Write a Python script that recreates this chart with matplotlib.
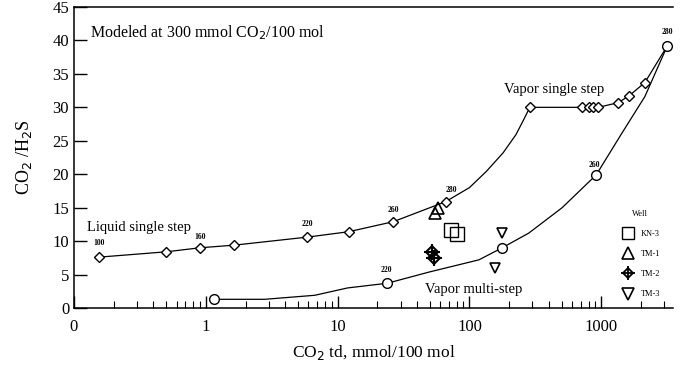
import matplotlib.pyplot as plt
from matplotlib.lines import Line2D

plt.rcParams['font.family'] = ['Liberation Serif', 'DejaVu Serif']

# liquid / vapor single step (diamonds)
liq_x = [0.154, 0.50, 0.90, 1.65, 5.9, 12.1, 26.4, 66, 287, 708, 800, 870, 950, 1343, 1620, 2140, 3170]
liq_y = [7.6, 8.4, 9.0, 9.4, 10.6, 11.4, 12.9, 15.9, 30.0, 30.0, 30.0, 30.0, 30.0, 30.7, 31.7, 33.7, 39.2]
# curve read between the 280 point and the vapor plateau
liq_curve_x = [100, 134, 180, 225, 257]
liq_curve_y = [18.0, 20.4, 23.2, 25.9, 28.1]

# vapor multi-step (circles)
multi_x = [1.15, 23.8, 177, 915, 3170]
multi_y = [1.3, 3.7, 9.0, 19.9, 39.2]
multi_curve_x = [2.8, 6.7, 11.9, 50, 118, 282, 505, 1440, 2140]
multi_curve_y = [1.3, 1.9, 3.0, 5.4, 7.2, 11.2, 15.0, 26.2, 31.6]

# wells
kn3_x, kn3_y = [73, 81], [11.7, 11.1]
tm1_x, tm1_y = [54.6, 57.5], [14.2, 15.0]
tm2_x, tm2_y = [51.8, 53.7], [8.4, 7.5]
tm3_x, tm3_y = [177, 157], [11.2, 6.0]

# temperature labels (text, x, y)
temp_labels = [("100", 0.154, 9.7), ("160", 0.90, 10.6), ("220", 5.9, 12.6),
               ("260", 26.4, 14.7), ("280", 73, 17.7), ("280", 3170, 41.2),
               ("260", 885, 21.4), ("220", 23.6, 5.7)]

fig = plt.figure(figsize=(6.81, 3.70), dpi=100)
ax = fig.add_axes([74 / 681, 1 - 308 / 370, 599 / 681, 301 / 370])

# lines
lx, ly = zip(*sorted(zip(liq_x + liq_curve_x, liq_y + liq_curve_y)))
ax.plot(lx, ly, color='black', lw=0.9)
mx, my = zip(*sorted(zip(multi_x + multi_curve_x, multi_y + multi_curve_y)))
ax.plot(mx, my, color='black', lw=0.9)

ax.plot(liq_x, liq_y, 'D', ms=5, mfc='white', mec='black', mew=1.0)
ax.plot(multi_x, multi_y, 'o', ms=7, mfc='white', mec='black', mew=1.0)

# wells
ax.plot(kn3_x, kn3_y, 's', ms=10, mfc='none', mec='black', mew=1.0)
ax.plot(tm1_x, tm1_y, '^', ms=8, mfc='none', mec='black', mew=1.2)
ax.plot(tm2_x, tm2_y, 'D', ms=6, mfc='none', mec='black', mew=1.5)
ax.plot(tm2_x, tm2_y, '+', ms=12, mec='black', mew=1.5)
ax.plot(tm3_x, tm3_y, 'v', ms=7, mfc='none', mec='black', mew=1.2)

handles = [
    Line2D([], [], ls='none', marker='s', ms=8, mfc='none', mec='black'),
    Line2D([], [], ls='none', marker='^', ms=8, mfc='none', mec='black', mew=1.2),
    (Line2D([], [], ls='none', marker='D', ms=5, mfc='none', mec='black', mew=1.3),
     Line2D([], [], ls='none', marker='+', ms=10, mec='black', mew=1.3)),
    Line2D([], [], ls='none', marker='v', ms=8, mfc='none', mec='black', mew=1.2),
]
leg = ax.legend(handles, ['KN-3', 'TM-1', 'TM-2', 'TM-3'], title='Well',
                loc='upper left', bbox_to_anchor=(0.898, 0.35), frameon=False,
                fontsize=6, title_fontsize=6, handletextpad=0.6, labelspacing=1.45)

for t, x, y in temp_labels:
    ax.text(x, y, t, fontsize=5.5, fontweight='bold', ha='center', va='center')

ax.text(0.132, 41.2, 'Modeled at 300 mmol CO$_2$/100 mol', fontsize=11.5, va='center')
ax.text(435, 32.6, 'Vapor single step', fontsize=10.5, ha='center', va='center')
ax.text(0.313, 12.0, 'Liquid single step', fontsize=10.5, ha='center', va='center')
ax.text(107, 2.8, 'Vapor multi-step', fontsize=10.5, ha='center', va='center')

ax.set_xscale('log')
ax.set_xlim(0.1, 3500)
ax.set_ylim(0, 45)
ax.set_xticks([0.1, 1, 10, 100, 1000])
ax.set_xticklabels(['0', '1', '10', '100', '1000'], fontsize=12)
ax.set_yticks(range(0, 46, 5))
ax.set_yticklabels([str(v) for v in range(0, 46, 5)], fontsize=12)
ax.tick_params(axis='both', which='major', direction='in', length=9, width=1.0)
ax.tick_params(axis='x', which='minor', direction='in', length=5, width=0.8)
ax.tick_params(axis='x', pad=8)
ax.spines['right'].set_visible(False)
for s in ['left', 'bottom', 'top']:
    ax.spines[s].set_linewidth(1.1)

ax.set_xlabel('CO$_2$ td, mmol/100 mol', fontsize=12.5, labelpad=6)
ax.set_ylabel('CO$_2$ /H$_2$S', fontsize=13, labelpad=13)

fig.savefig('out.png', dpi=100)
